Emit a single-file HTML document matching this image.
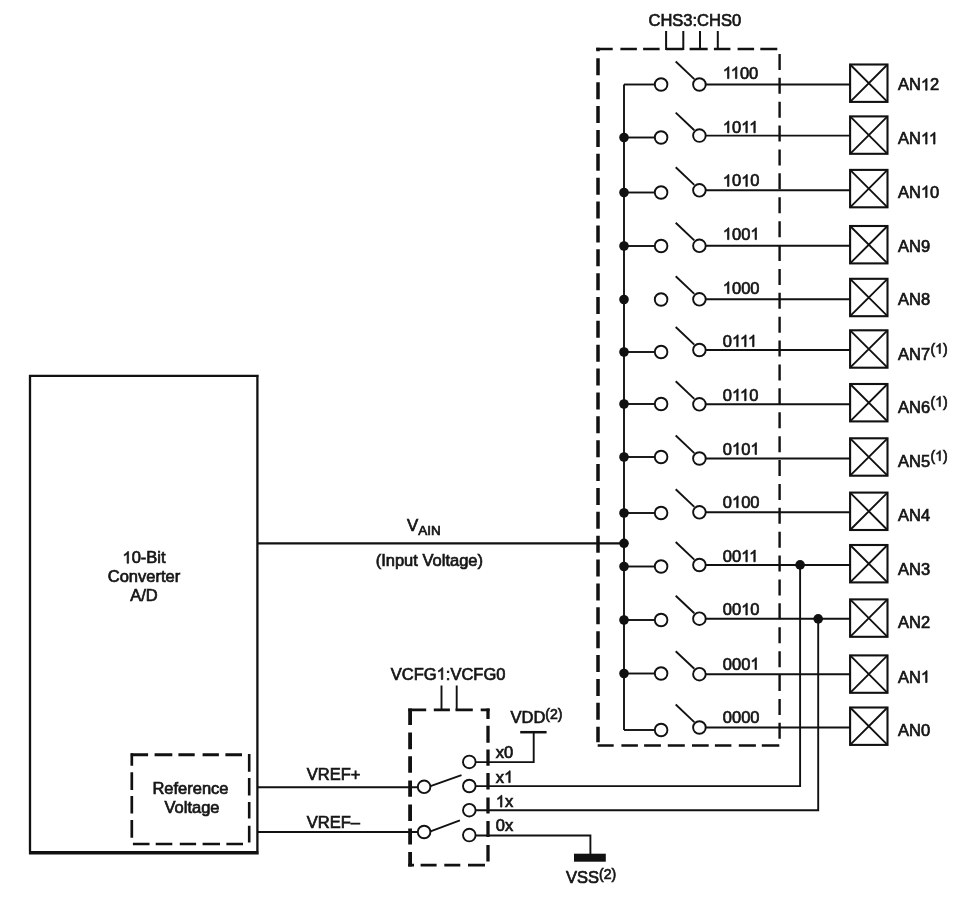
<!DOCTYPE html><html><head><meta charset="utf-8"><style>html,body{margin:0;padding:0;background:#fff;width:970px;height:899px;overflow:hidden}svg{display:block;will-change:transform}text{font-family:"Liberation Sans",sans-serif;fill:#161616;stroke:#161616;stroke-width:0.7}.h{fill:transparent;stroke:none}.one{fill:#161616;stroke:#161616;stroke-width:0.7;vector-effect:non-scaling-stroke}</style></head><body>
<svg width="970" height="899" viewBox="0 0 970 899">
<rect x="0" y="0" width="970" height="899" fill="#fff"/>
<g fill="none" stroke="#111" stroke-width="3" >
<path fill="none" stroke="#111" stroke-width="2.6" d="M596.2,49H612.7M620.4,49H636.9M643.1,49H659.6M666.1,49H683.3M689.6,49H707.7M713.9,49H730.4M737.6,49H754.1M760.3,49H777.3"/>
<path fill="none" stroke="#111" stroke-width="3.5" d="M598,47.7V51.2M598,58.3V75.3M598,82.17V99.17M598,106.04V123.04M598,129.91V146.91M598,153.78V170.78M598,177.65V194.65M598,201.52V218.52M598,225.39V242.39M598,249.26V266.26M598,273.13V290.13M598,297.0V314.0M598,320.87V337.87M598,344.74V361.74M598,368.61V385.61M598,392.48V409.48M598,416.35V433.35M598,440.22V457.22M598,464.09V481.09M598,487.96V504.96M598,511.83V528.83M598,535.7V552.7M598,559.57V576.57M598,583.44V600.44M598,607.31V624.31M598,631.18V648.18M598,655.05V672.05M598,678.92V695.92M598,702.79V719.79M598,726.66V742.3"/>
<path fill="none" stroke="#111" stroke-width="2.4" d="M779.6,53.9V69.9M779.6,77.79V93.79M779.6,101.68V117.68M779.6,125.57V141.57M779.6,149.46V165.46M779.6,173.35V189.35M779.6,197.24V213.24M779.6,221.13V237.13M779.6,245.02V261.02M779.6,268.91V284.91M779.6,292.8V308.8M779.6,316.69V332.69M779.6,340.58V356.58M779.6,364.47V380.47M779.6,388.36V404.36M779.6,412.25V428.25M779.6,436.14V452.14M779.6,460.03V476.03M779.6,483.92V499.92M779.6,507.81V523.81M779.6,531.7V547.7M779.6,555.59V571.59M779.6,579.48V595.48M779.6,603.37V619.37M779.6,627.26V643.26M779.6,651.15V667.15M779.6,675.04V691.04M779.6,698.93V714.93M779.6,722.82V738.82"/>
<path fill="none" stroke="#111" stroke-width="2.6" d="M597.7,745.5H613.7M621.4,745.5H637.9M644.1,745.5H660.9M667.8,745.5H684.8M692,745.5H708.7M714.9,745.5H731.4M738.8,745.5H755.9M761.8,745.5H779.3"/>
</g>
<g fill="none" stroke="#111" stroke-width="2">
<path d="M666.1,31V49H683.3V31M700,31V49M717.8,31V49"/>
</g>
<text x="648.5" y="26" font-size="16.5">CHS3:CHS0</text>
<g fill="none" stroke="#111" stroke-width="1.9">
<path d="M624,84.5V730"/>
<path d="M624,84.5H654.8"/>
<circle cx="661.1" cy="84.5" r="6.3"/>
<circle cx="699.4" cy="84.5" r="6.3"/>
<path d="M675.7,61.5L694.3,79.1"/>
<path d="M705.7,84.5H850"/>
<rect x="850.1" y="64.5" width="37.4" height="37.4" stroke-width="2.1"/>
<path d="M850.1,64.5L887.5,101.9M887.5,64.5L850.1,101.9"/>
<path d="M624,137.5H654.8"/>
<circle cx="661.1" cy="137.5" r="6.3"/>
<circle cx="699.4" cy="135.6" r="6.3"/>
<path d="M675.7,112.6L694.3,130.2"/>
<path d="M705.7,135.6H850"/>
<rect x="850.1" y="116.4" width="37.4" height="37.4" stroke-width="2.1"/>
<path d="M850.1,116.4L887.5,153.8M887.5,116.4L850.1,153.8"/>
<path d="M624,192.5H654.8"/>
<circle cx="661.1" cy="192.5" r="6.3"/>
<circle cx="699.4" cy="190.3" r="6.3"/>
<path d="M675.7,167.3L694.3,184.9"/>
<path d="M705.7,190.3H850"/>
<rect x="850.1" y="169.9" width="37.4" height="37.4" stroke-width="2.1"/>
<path d="M850.1,169.9L887.5,207.3M887.5,169.9L850.1,207.3"/>
<path d="M624,246.0H654.8"/>
<circle cx="661.1" cy="246.0" r="6.3"/>
<circle cx="699.4" cy="245.8" r="6.3"/>
<path d="M675.7,222.8L694.3,240.4"/>
<path d="M705.7,245.8H850"/>
<rect x="850.1" y="226.0" width="37.4" height="37.4" stroke-width="2.1"/>
<path d="M850.1,226.0L887.5,263.4M887.5,226.0L850.1,263.4"/>
<circle cx="661.1" cy="299.5" r="6.3"/>
<circle cx="699.4" cy="299.3" r="6.3"/>
<path d="M675.7,276.3L694.3,293.90000000000003"/>
<path d="M705.7,299.3H850"/>
<rect x="850.1" y="278.8" width="37.4" height="37.4" stroke-width="2.1"/>
<path d="M850.1,278.8L887.5,316.2M887.5,278.8L850.1,316.2"/>
<path d="M624,352.0H654.8"/>
<circle cx="661.1" cy="352.0" r="6.3"/>
<circle cx="699.4" cy="350.0" r="6.3"/>
<path d="M675.7,327.0L694.3,344.6"/>
<path d="M705.7,350.0H850"/>
<rect x="850.1" y="330.3" width="37.4" height="37.4" stroke-width="2.1"/>
<path d="M850.1,330.3L887.5,367.7M887.5,330.3L850.1,367.7"/>
<path d="M624,404.0H654.8"/>
<circle cx="661.1" cy="404.0" r="6.3"/>
<circle cx="699.4" cy="404.3" r="6.3"/>
<path d="M675.7,381.3L694.3,398.90000000000003"/>
<path d="M705.7,404.3H850"/>
<rect x="850.1" y="384.0" width="37.4" height="37.4" stroke-width="2.1"/>
<path d="M850.1,384.0L887.5,421.4M887.5,384.0L850.1,421.4"/>
<path d="M624,457.0H654.8"/>
<circle cx="661.1" cy="457.0" r="6.3"/>
<circle cx="699.4" cy="458.5" r="6.3"/>
<path d="M675.7,435.5L694.3,453.1"/>
<path d="M705.7,458.5H850"/>
<rect x="850.1" y="438.3" width="37.4" height="37.4" stroke-width="2.1"/>
<path d="M850.1,438.3L887.5,475.7M887.5,438.3L850.1,475.7"/>
<path d="M624,513.0H654.8"/>
<circle cx="661.1" cy="513.0" r="6.3"/>
<circle cx="699.4" cy="512.3" r="6.3"/>
<path d="M675.7,489.29999999999995L694.3,506.9"/>
<path d="M705.7,512.3H850"/>
<rect x="850.1" y="492.6" width="37.4" height="37.4" stroke-width="2.1"/>
<path d="M850.1,492.6L887.5,530.0M887.5,492.6L850.1,530.0"/>
<path d="M624,566.5H654.8"/>
<circle cx="661.1" cy="566.5" r="6.3"/>
<circle cx="699.4" cy="565.0" r="6.3"/>
<path d="M675.7,542.0L694.3,559.6"/>
<path d="M705.7,565.0H850"/>
<rect x="850.1" y="545.0" width="37.4" height="37.4" stroke-width="2.1"/>
<path d="M850.1,545.0L887.5,582.4M887.5,545.0L850.1,582.4"/>
<path d="M624,620.0H654.8"/>
<circle cx="661.1" cy="620.0" r="6.3"/>
<circle cx="699.4" cy="618.7" r="6.3"/>
<path d="M675.7,595.7L694.3,613.3000000000001"/>
<path d="M705.7,618.7H850"/>
<rect x="850.1" y="599.4" width="37.4" height="37.4" stroke-width="2.1"/>
<path d="M850.1,599.4L887.5,636.8M887.5,599.4L850.1,636.8"/>
<path d="M624,673.5H654.8"/>
<circle cx="661.1" cy="673.5" r="6.3"/>
<circle cx="699.4" cy="674.2" r="6.3"/>
<path d="M675.7,651.2L694.3,668.8000000000001"/>
<path d="M705.7,674.2H850"/>
<rect x="850.1" y="655.4" width="37.4" height="37.4" stroke-width="2.1"/>
<path d="M850.1,655.4L887.5,692.8M887.5,655.4L850.1,692.8"/>
<path d="M624,730.0H654.8"/>
<circle cx="661.1" cy="730.0" r="6.3"/>
<circle cx="699.4" cy="727.5" r="6.3"/>
<path d="M675.7,704.5L694.3,722.1"/>
<path d="M705.7,727.5H850"/>
<rect x="850.1" y="707.5" width="37.4" height="37.4" stroke-width="2.1"/>
<path d="M850.1,707.5L887.5,744.9M887.5,707.5L850.1,744.9"/>
<path d="M257.4,543.3H624" stroke-width="2.2"/>
</g>
<g fill="#111">
<circle cx="624" cy="137.5" r="4.8"/>
<circle cx="624" cy="192.5" r="4.8"/>
<circle cx="624" cy="246.0" r="4.8"/>
<circle cx="624" cy="299.5" r="4.8"/>
<circle cx="624" cy="352.0" r="4.8"/>
<circle cx="624" cy="404.0" r="4.8"/>
<circle cx="624" cy="457.0" r="4.8"/>
<circle cx="624" cy="513.0" r="4.8"/>
<circle cx="624" cy="566.5" r="4.8"/>
<circle cx="624" cy="620.0" r="4.8"/>
<circle cx="624" cy="673.5" r="4.8"/>
<circle cx="624" cy="543.3" r="4.8"/>
<circle cx="800.1" cy="564.9" r="4.8"/>
<circle cx="818.2" cy="618.9" r="4.8"/>
</g>
<text x="722.8" y="78.6" font-size="16.5"><tspan class="h">1</tspan><tspan class="h">1</tspan>00</text>
<text x="898" y="90.3" font-size="16.5">AN<tspan class="h">1</tspan>2</text>
<text x="722.8" y="132.8" font-size="16.5"><tspan class="h">1</tspan>0<tspan class="h">1</tspan><tspan class="h">1</tspan></text>
<text x="898" y="144.1" font-size="16.5">AN<tspan class="h">1</tspan><tspan class="h">1</tspan></text>
<text x="722.8" y="186.4" font-size="16.5"><tspan class="h">1</tspan>0<tspan class="h">1</tspan>0</text>
<text x="898" y="197.5" font-size="16.5">AN<tspan class="h">1</tspan>0</text>
<text x="722.8" y="239.6" font-size="16.5"><tspan class="h">1</tspan>00<tspan class="h">1</tspan></text>
<text x="898" y="252.2" font-size="16.5">AN9</text>
<text x="722.8" y="293.6" font-size="16.5"><tspan class="h">1</tspan>000</text>
<text x="898" y="305.4" font-size="16.5">AN8</text>
<text x="722.8" y="346.7" font-size="16.5">0<tspan class="h">1</tspan><tspan class="h">1</tspan><tspan class="h">1</tspan></text>
<text x="898" y="360.0" font-size="16.5">AN7</text>
<text x="930.5" y="353.5" font-size="14">(<tspan class="h">1</tspan>)</text>
<text x="722.8" y="400.7" font-size="16.5">0<tspan class="h">1</tspan><tspan class="h">1</tspan>0</text>
<text x="898" y="413.0" font-size="16.5">AN6</text>
<text x="930.5" y="406.5" font-size="14">(<tspan class="h">1</tspan>)</text>
<text x="722.8" y="454.5" font-size="16.5">0<tspan class="h">1</tspan>0<tspan class="h">1</tspan></text>
<text x="898" y="467.2" font-size="16.5">AN5</text>
<text x="930.5" y="460.7" font-size="14">(<tspan class="h">1</tspan>)</text>
<text x="722.8" y="507.7" font-size="16.5">0<tspan class="h">1</tspan>00</text>
<text x="898" y="520.5" font-size="16.5">AN4</text>
<text x="722.8" y="561.8" font-size="16.5">00<tspan class="h">1</tspan><tspan class="h">1</tspan></text>
<text x="898" y="574.5" font-size="16.5">AN3</text>
<text x="722.8" y="615.0" font-size="16.5">00<tspan class="h">1</tspan>0</text>
<text x="898" y="628.3" font-size="16.5">AN2</text>
<text x="722.8" y="669.5" font-size="16.5">000<tspan class="h">1</tspan></text>
<text x="898" y="682.5" font-size="16.5">AN<tspan class="h">1</tspan></text>
<text x="722.8" y="723.0" font-size="16.5">0000</text>
<text x="898" y="735.7" font-size="16.5">AN0</text>
<path fill="none" stroke="#111" stroke-width="2.3" d="M28.9,375.9H258.7M30,374.8V851M257.4,374.8V851"/>
<path fill="none" stroke="#111" stroke-width="3.6" d="M28.9,852.7H258.7"/>
<text x="144" y="563.3" font-size="16.5" text-anchor="middle"><tspan class="h">1</tspan>0-Bit</text>
<text x="144" y="582.3" font-size="16.5" text-anchor="middle">Converter</text>
<text x="144" y="601.2" font-size="16.5" text-anchor="middle">A/D</text>
<text x="407" y="530.7" font-size="16.8">V<tspan font-size="13.5" dy="3.9">AIN</tspan></text>
<text x="375.7" y="565.9" font-size="16.5">(Input Voltage)</text>
<path fill="none" stroke="#111" stroke-width="3" d="M130.8,754.8H148.1M154.6,754.8H172.3M178.4,754.8H194.7M202.6,754.8H218.9M225.4,754.8H242"/>
<path fill="none" stroke="#111" stroke-width="2.7" d="M131.8,753.2V765.7M131.8,772.2V789.9M131.8,796V813.5M131.8,820V837.7"/>
<path fill="none" stroke="#111" stroke-width="2.6" d="M249.2,754.1V771.8M249.2,778V795.6M249.2,802V818.6M249.2,825.8V842.4"/>
<path fill="none" stroke="#111" stroke-width="2.7" d="M132.9,844H149.5M155.7,844H172.3M179.8,844H196.1M202.6,844H220M226.4,844H243"/>
<text x="190.5" y="793.8" font-size="16.5" text-anchor="middle">Reference</text>
<text x="192" y="812.6" font-size="16.5" text-anchor="middle">Voltage</text>
<g fill="none" stroke="#111" stroke-width="1.9">
<path d="M257.4,787.2H418.1M257.4,832H418.1"/>
<circle cx="424.1" cy="786.8" r="6.3"/><circle cx="424.1" cy="832" r="6.3"/>
<path d="M430.5,786.2L461.5,775.1M430.5,831.4L459.9,820.3"/>
<circle cx="469.3" cy="761.9" r="6.3"/>
<circle cx="469.3" cy="786.0" r="6.3"/>
<circle cx="469.3" cy="810.2" r="6.3"/>
<circle cx="469.3" cy="835.1" r="6.3"/>
<path d="M475.3,762.1H533.7V732.2"/>
<path d="M520.2,732.2H546.6" stroke-width="2.5"/>
<path d="M475.3,786.1H800.1V564.9"/>
<path d="M475.3,810.3H818.2V618.9"/>
<path d="M475.3,835.5H590.4V854"/>
<path d="M441.5,685.4V710M456.7,685.4V710"/>
</g>
<rect x="574" y="853.7" width="31.8" height="8" fill="#111"/>
<path fill="none" stroke="#111" stroke-width="2.7" d="M408.2,709.8H426.2M433.8,709.8H449.9M455.5,709.8H472.8M480.7,709.8H489.6"/>
<path fill="none" stroke="#111" stroke-width="3.8" d="M410.1,708.5V725.1M410.1,732.6V749.2M410.1,756.3V772.8M410.1,780.4V796.8M410.1,804.4V820.9M410.1,828.5V844.6M410.1,852.1V866.4"/>
<path fill="none" stroke="#111" stroke-width="3.3" d="M488,708.5V719.1M488,725.8V742.7M488,749.4V765.8M488,773V789.5M488,797.5V813.5M488,821V837M488,845V861.6"/>
<path fill="none" stroke="#111" stroke-width="2.7" d="M408.2,865.1H414M420.6,865.1H436.6M444.3,865.1H460.3M468,865.1H485"/>
<text x="390.8" y="679.5" font-size="16.5">VCFG<tspan class="h">1</tspan>:VCFG0</text>
<text x="306.8" y="780.4" font-size="16.5">VREF+</text>
<text x="306.8" y="827.8" font-size="16.5">VREF–</text>
<text x="495.8" y="758.0999999999999" font-size="16.5">x0</text>
<text x="495.8" y="782.5999999999999" font-size="16.5">x<tspan class="h">1</tspan></text>
<text x="495.8" y="807.0999999999999" font-size="16.5"><tspan class="h">1</tspan>x</text>
<text x="495.8" y="831.3" font-size="16.5">0x</text>
<text x="510.5" y="723" font-size="16.5">VDD<tspan font-size="14" dy="-4">(2)</tspan></text>
<text x="566" y="882.8" font-size="16.5">VSS<tspan font-size="14" dy="-4">(2)</tspan></text>
<path class="one" transform="translate(722.80,78.60) scale(0.008057,-0.008057)" d="M763,0L583,0L583,1147Q518,1085 412.5,1023Q307,961 223,929L223,1103Q374,1174 484.5,1273Q595,1372 653,1466L763,1466Z"/>
<path class="one" transform="translate(730.75,78.60) scale(0.008057,-0.008057)" d="M763,0L583,0L583,1147Q518,1085 412.5,1023Q307,961 223,929L223,1103Q374,1174 484.5,1273Q595,1372 653,1466L763,1466Z"/>
<path class="one" transform="translate(920.92,90.30) scale(0.008057,-0.008057)" d="M763,0L583,0L583,1147Q518,1085 412.5,1023Q307,961 223,929L223,1103Q374,1174 484.5,1273Q595,1372 653,1466L763,1466Z"/>
<path class="one" transform="translate(722.80,132.80) scale(0.008057,-0.008057)" d="M763,0L583,0L583,1147Q518,1085 412.5,1023Q307,961 223,929L223,1103Q374,1174 484.5,1273Q595,1372 653,1466L763,1466Z"/>
<path class="one" transform="translate(741.17,132.80) scale(0.008057,-0.008057)" d="M763,0L583,0L583,1147Q518,1085 412.5,1023Q307,961 223,929L223,1103Q374,1174 484.5,1273Q595,1372 653,1466L763,1466Z"/>
<path class="one" transform="translate(749.13,132.80) scale(0.008057,-0.008057)" d="M763,0L583,0L583,1147Q518,1085 412.5,1023Q307,961 223,929L223,1103Q374,1174 484.5,1273Q595,1372 653,1466L763,1466Z"/>
<path class="one" transform="translate(920.92,144.10) scale(0.008057,-0.008057)" d="M763,0L583,0L583,1147Q518,1085 412.5,1023Q307,961 223,929L223,1103Q374,1174 484.5,1273Q595,1372 653,1466L763,1466Z"/>
<path class="one" transform="translate(928.88,144.10) scale(0.008057,-0.008057)" d="M763,0L583,0L583,1147Q518,1085 412.5,1023Q307,961 223,929L223,1103Q374,1174 484.5,1273Q595,1372 653,1466L763,1466Z"/>
<path class="one" transform="translate(722.80,186.40) scale(0.008057,-0.008057)" d="M763,0L583,0L583,1147Q518,1085 412.5,1023Q307,961 223,929L223,1103Q374,1174 484.5,1273Q595,1372 653,1466L763,1466Z"/>
<path class="one" transform="translate(741.17,186.40) scale(0.008057,-0.008057)" d="M763,0L583,0L583,1147Q518,1085 412.5,1023Q307,961 223,929L223,1103Q374,1174 484.5,1273Q595,1372 653,1466L763,1466Z"/>
<path class="one" transform="translate(920.92,197.50) scale(0.008057,-0.008057)" d="M763,0L583,0L583,1147Q518,1085 412.5,1023Q307,961 223,929L223,1103Q374,1174 484.5,1273Q595,1372 653,1466L763,1466Z"/>
<path class="one" transform="translate(722.80,239.60) scale(0.008057,-0.008057)" d="M763,0L583,0L583,1147Q518,1085 412.5,1023Q307,961 223,929L223,1103Q374,1174 484.5,1273Q595,1372 653,1466L763,1466Z"/>
<path class="one" transform="translate(750.35,239.60) scale(0.008057,-0.008057)" d="M763,0L583,0L583,1147Q518,1085 412.5,1023Q307,961 223,929L223,1103Q374,1174 484.5,1273Q595,1372 653,1466L763,1466Z"/>
<path class="one" transform="translate(722.80,293.60) scale(0.008057,-0.008057)" d="M763,0L583,0L583,1147Q518,1085 412.5,1023Q307,961 223,929L223,1103Q374,1174 484.5,1273Q595,1372 653,1466L763,1466Z"/>
<path class="one" transform="translate(731.99,346.70) scale(0.008057,-0.008057)" d="M763,0L583,0L583,1147Q518,1085 412.5,1023Q307,961 223,929L223,1103Q374,1174 484.5,1273Q595,1372 653,1466L763,1466Z"/>
<path class="one" transform="translate(739.94,346.70) scale(0.008057,-0.008057)" d="M763,0L583,0L583,1147Q518,1085 412.5,1023Q307,961 223,929L223,1103Q374,1174 484.5,1273Q595,1372 653,1466L763,1466Z"/>
<path class="one" transform="translate(747.89,346.70) scale(0.008057,-0.008057)" d="M763,0L583,0L583,1147Q518,1085 412.5,1023Q307,961 223,929L223,1103Q374,1174 484.5,1273Q595,1372 653,1466L763,1466Z"/>
<path class="one" transform="translate(935.17,353.50) scale(0.006836,-0.006836)" d="M763,0L583,0L583,1147Q518,1085 412.5,1023Q307,961 223,929L223,1103Q374,1174 484.5,1273Q595,1372 653,1466L763,1466Z"/>
<path class="one" transform="translate(731.99,400.70) scale(0.008057,-0.008057)" d="M763,0L583,0L583,1147Q518,1085 412.5,1023Q307,961 223,929L223,1103Q374,1174 484.5,1273Q595,1372 653,1466L763,1466Z"/>
<path class="one" transform="translate(739.94,400.70) scale(0.008057,-0.008057)" d="M763,0L583,0L583,1147Q518,1085 412.5,1023Q307,961 223,929L223,1103Q374,1174 484.5,1273Q595,1372 653,1466L763,1466Z"/>
<path class="one" transform="translate(935.17,406.50) scale(0.006836,-0.006836)" d="M763,0L583,0L583,1147Q518,1085 412.5,1023Q307,961 223,929L223,1103Q374,1174 484.5,1273Q595,1372 653,1466L763,1466Z"/>
<path class="one" transform="translate(731.99,454.50) scale(0.008057,-0.008057)" d="M763,0L583,0L583,1147Q518,1085 412.5,1023Q307,961 223,929L223,1103Q374,1174 484.5,1273Q595,1372 653,1466L763,1466Z"/>
<path class="one" transform="translate(750.36,454.50) scale(0.008057,-0.008057)" d="M763,0L583,0L583,1147Q518,1085 412.5,1023Q307,961 223,929L223,1103Q374,1174 484.5,1273Q595,1372 653,1466L763,1466Z"/>
<path class="one" transform="translate(935.17,460.70) scale(0.006836,-0.006836)" d="M763,0L583,0L583,1147Q518,1085 412.5,1023Q307,961 223,929L223,1103Q374,1174 484.5,1273Q595,1372 653,1466L763,1466Z"/>
<path class="one" transform="translate(731.99,507.70) scale(0.008057,-0.008057)" d="M763,0L583,0L583,1147Q518,1085 412.5,1023Q307,961 223,929L223,1103Q374,1174 484.5,1273Q595,1372 653,1466L763,1466Z"/>
<path class="one" transform="translate(741.16,561.80) scale(0.008057,-0.008057)" d="M763,0L583,0L583,1147Q518,1085 412.5,1023Q307,961 223,929L223,1103Q374,1174 484.5,1273Q595,1372 653,1466L763,1466Z"/>
<path class="one" transform="translate(749.11,561.80) scale(0.008057,-0.008057)" d="M763,0L583,0L583,1147Q518,1085 412.5,1023Q307,961 223,929L223,1103Q374,1174 484.5,1273Q595,1372 653,1466L763,1466Z"/>
<path class="one" transform="translate(741.16,615.00) scale(0.008057,-0.008057)" d="M763,0L583,0L583,1147Q518,1085 412.5,1023Q307,961 223,929L223,1103Q374,1174 484.5,1273Q595,1372 653,1466L763,1466Z"/>
<path class="one" transform="translate(750.33,669.50) scale(0.008057,-0.008057)" d="M763,0L583,0L583,1147Q518,1085 412.5,1023Q307,961 223,929L223,1103Q374,1174 484.5,1273Q595,1372 653,1466L763,1466Z"/>
<path class="one" transform="translate(920.92,682.50) scale(0.008057,-0.008057)" d="M763,0L583,0L583,1147Q518,1085 412.5,1023Q307,961 223,929L223,1103Q374,1174 484.5,1273Q595,1372 653,1466L763,1466Z"/>
<path class="one" transform="translate(122.44,563.30) scale(0.008057,-0.008057)" d="M763,0L583,0L583,1147Q518,1085 412.5,1023Q307,961 223,929L223,1103Q374,1174 484.5,1273Q595,1372 653,1466L763,1466Z"/>
<path class="one" transform="translate(436.64,679.50) scale(0.008057,-0.008057)" d="M763,0L583,0L583,1147Q518,1085 412.5,1023Q307,961 223,929L223,1103Q374,1174 484.5,1273Q595,1372 653,1466L763,1466Z"/>
<path class="one" transform="translate(504.05,782.60) scale(0.008057,-0.008057)" d="M763,0L583,0L583,1147Q518,1085 412.5,1023Q307,961 223,929L223,1103Q374,1174 484.5,1273Q595,1372 653,1466L763,1466Z"/>
<path class="one" transform="translate(495.80,807.10) scale(0.008057,-0.008057)" d="M763,0L583,0L583,1147Q518,1085 412.5,1023Q307,961 223,929L223,1103Q374,1174 484.5,1273Q595,1372 653,1466L763,1466Z"/>
</svg></body></html>
